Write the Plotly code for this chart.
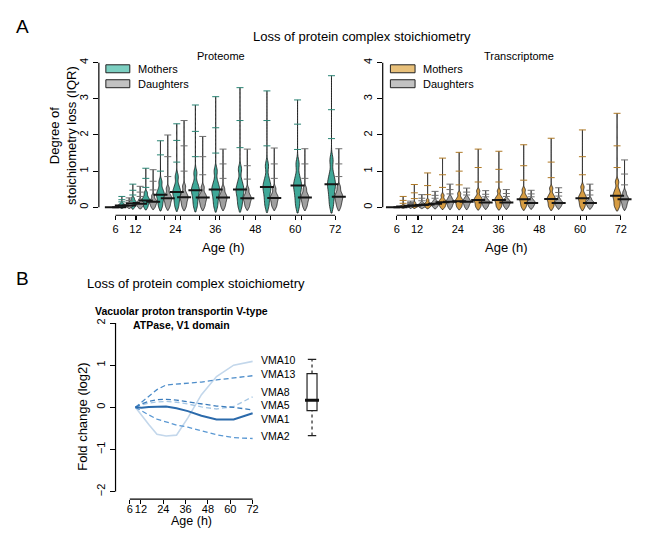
import plotly.graph_objects as go

# The page body has an 8px margin; the figure is sized to fit the window and
# all layout positions below are given in window pixels.
PAD = 8
W, H = 647 - PAD, 547 - PAD
def px(x): return (x - PAD) / W
def py(y): return 1 - (y - PAD) / H

FONT = "Liberation Sans, Arial, sans-serif"

# ---------------- data ----------------
ages = [6, 9, 12.3, 16.2, 20.6, 25.5, 31.1, 37.2, 44.5, 52.6, 61.8, 72]
label_ticks = [6, 12, 24, 36, 48, 60, 72]

prot_mother_median = [0, .05, .12, .19, .35, .42, .47, .49, .49, .56, .60, .64]
prot_daughter_median = [0, .05, .10, .15, .25, .28, .27, .27, .25, .26, .27, .29]
trans_mother_median = [0, .02, .05, .08, .14, .17, .20, .20, .22, .23, .25, .32]
trans_daughter_median = [0, .04, .06, .10, .15, .15, .13, .13, .12, .12, .12, .22]

# per time point: 7 body values, then 3 tail values (last = maximum)
prot_mother_samples = [
    [],
    [0.0, 0.02, 0.035, 0.05, 0.06, 0.08, 0.11, 0.15, 0.21, 0.30],
    [0.0, 0.05, 0.09, 0.12, 0.14, 0.18, 0.25, 0.34, 0.47, 0.64],
    [0.0, 0.08, 0.14, 0.19, 0.22, 0.29, 0.40, 0.55, 0.80, 1.08],
    [0.02, 0.15, 0.26, 0.34, 0.39, 0.50, 0.70, 1.00, 1.45, 1.84],
    [0.03, 0.18, 0.31, 0.41, 0.46, 0.60, 0.85, 1.25, 1.85, 2.31],
    [0.03, 0.20, 0.35, 0.46, 0.52, 0.66, 0.95, 1.40, 2.10, 2.83],
    [0.03, 0.21, 0.36, 0.48, 0.54, 0.70, 1.00, 1.50, 2.20, 3.06],
    [0.03, 0.21, 0.36, 0.48, 0.55, 0.72, 1.05, 1.65, 2.40, 3.31],
    [0.04, 0.24, 0.41, 0.55, 0.62, 0.80, 1.15, 1.70, 2.40, 3.22],
    [0.04, 0.26, 0.44, 0.59, 0.66, 0.85, 1.20, 1.60, 2.30, 2.97],
    [0.05, 0.28, 0.47, 0.63, 0.71, 0.92, 1.30, 1.90, 2.70, 3.64],
]
prot_daughter_samples = [
    [],
    [0.0, 0.02, 0.035, 0.05, 0.06, 0.08, 0.10, 0.14, 0.19, 0.26],
    [0.0, 0.04, 0.07, 0.10, 0.12, 0.15, 0.21, 0.30, 0.42, 0.58],
    [0.0, 0.06, 0.11, 0.15, 0.17, 0.22, 0.32, 0.48, 0.72, 1.04],
    [0.01, 0.10, 0.18, 0.24, 0.28, 0.36, 0.52, 0.85, 1.40, 2.00],
    [0.01, 0.11, 0.20, 0.27, 0.31, 0.40, 0.58, 1.00, 1.70, 2.40],
    [0.01, 0.11, 0.19, 0.26, 0.30, 0.38, 0.55, 0.90, 1.40, 1.96],
    [0.01, 0.11, 0.19, 0.26, 0.30, 0.38, 0.52, 0.80, 1.20, 1.61],
    [0.01, 0.10, 0.18, 0.24, 0.28, 0.36, 0.50, 0.78, 1.15, 1.61],
    [0.01, 0.10, 0.18, 0.25, 0.29, 0.37, 0.52, 0.80, 1.20, 1.64],
    [0.01, 0.11, 0.19, 0.26, 0.30, 0.38, 0.52, 0.80, 1.20, 1.62],
    [0.01, 0.12, 0.20, 0.28, 0.32, 0.41, 0.56, 0.85, 1.20, 1.62],
]
trans_mother_samples = [
    [],
    [0.0, 0.005, 0.012, 0.02, 0.025, 0.035, 0.06, 0.11, 0.19, 0.30],
    [0.0, 0.02, 0.035, 0.05, 0.06, 0.08, 0.13, 0.24, 0.40, 0.63],
    [0.0, 0.03, 0.055, 0.08, 0.09, 0.13, 0.20, 0.35, 0.60, 0.95],
    [0.0, 0.05, 0.10, 0.14, 0.16, 0.22, 0.33, 0.55, 0.90, 1.36],
    [0.0, 0.06, 0.12, 0.17, 0.19, 0.26, 0.38, 0.62, 1.00, 1.52],
    [0.0, 0.07, 0.14, 0.20, 0.23, 0.30, 0.45, 0.70, 1.10, 1.61],
    [0.0, 0.07, 0.14, 0.20, 0.23, 0.30, 0.45, 0.70, 1.05, 1.55],
    [0.0, 0.08, 0.15, 0.22, 0.25, 0.33, 0.48, 0.75, 1.15, 1.73],
    [0.0, 0.08, 0.16, 0.23, 0.26, 0.35, 0.52, 0.82, 1.25, 1.91],
    [0.0, 0.09, 0.17, 0.25, 0.28, 0.38, 0.56, 0.90, 1.40, 2.14],
    [0.01, 0.11, 0.22, 0.31, 0.36, 0.48, 0.70, 1.10, 1.70, 2.60],
]
trans_daughter_samples = [
    [],
    [0.0, 0.015, 0.03, 0.04, 0.045, 0.06, 0.08, 0.10, 0.13, 0.17],
    [0.0, 0.02, 0.04, 0.06, 0.07, 0.09, 0.13, 0.18, 0.25, 0.35],
    [0.0, 0.04, 0.07, 0.10, 0.11, 0.14, 0.19, 0.25, 0.33, 0.44],
    [0.0, 0.06, 0.11, 0.15, 0.17, 0.21, 0.28, 0.37, 0.49, 0.64],
    [0.0, 0.06, 0.11, 0.15, 0.17, 0.21, 0.27, 0.34, 0.42, 0.53],
    [0.0, 0.05, 0.09, 0.13, 0.15, 0.18, 0.23, 0.29, 0.36, 0.46],
    [0.0, 0.05, 0.09, 0.13, 0.15, 0.18, 0.23, 0.30, 0.38, 0.49],
    [0.0, 0.05, 0.085, 0.12, 0.14, 0.17, 0.22, 0.29, 0.37, 0.47],
    [0.0, 0.05, 0.085, 0.12, 0.14, 0.17, 0.23, 0.31, 0.41, 0.54],
    [0.0, 0.05, 0.085, 0.12, 0.14, 0.17, 0.24, 0.34, 0.47, 0.64],
    [0.0, 0.09, 0.16, 0.22, 0.25, 0.31, 0.42, 0.62, 0.92, 1.31],
]

# Panel B: fold change (log2) per subunit
b_ages = [9, 12.3, 16.2, 20.6, 25.5, 31.1, 37.2, 44.5, 52.6, 61.8, 72]
vma10 = [0, -0.20, -0.41, -0.64, -0.68, -0.66, -0.25, 0.30, 0.73, 1.00, 1.09]
vma13 = [0, 0.12, 0.28, 0.42, 0.53, 0.55, 0.57, 0.60, 0.65, 0.69, 0.75]
vma8 = [0, 0.06, 0.10, 0.13, 0.14, 0.12, 0.08, 0.01, -0.04, 0.02, 0.25]
vma5 = [0, 0.08, 0.14, 0.18, 0.19, 0.17, 0.13, 0.08, 0.03, 0.00, -0.06]
vma1 = [0, -0.01, 0.01, 0.02, 0.02, -0.02, -0.09, -0.20, -0.29, -0.29, -0.14]
vma2 = [0, -0.09, -0.18, -0.28, -0.35, -0.42, -0.47, -0.55, -0.65, -0.72, -0.74]
vma_names = ["VMA10", "VMA13", "VMA8", "VMA5", "VMA1", "VMA2"]
label_y = [1.13, 0.79, 0.36, 0.06, -0.27, -0.67]

# summary box (log2 fold change)
box_lower, box_q1, box_median, box_q3, box_upper = -0.67, -0.08, 0.17, 0.80, 1.14

# ---------------- styles ----------------
TEAL, TEAL_L, TEAL_D = "#3fa898", "#7ccfc1", "#2a8575"
ORANGE, ORANGE_L, ORANGE_D = "#d69c42", "#e8c07a", "#b07a26"
GRAY, GRAY_L, GRAY_D = "#9f9f9f", "#c2c2c2", "#6f6f6f"
OFF = 1.1
VW = 2.4
NBODY = 7

fig = go.Figure()


def add_beans(samples, medians, shift, fill, dark, xa, ya):
    tx, ty = [], []
    for a, s, m in zip(ages, samples, medians):
        if not s:
            continue
        body = s[:NBODY]
        bw = 0.012 + 0.2 * m
        fig.add_trace(go.Violin(
            x=[a + shift] * len(body), y=body, xaxis=xa, yaxis=ya,
            width=VW, scalemode="width", spanmode="manual",
            span=[min(body) - 1.5 * bw, max(s)], bandwidth=bw,
            fillcolor=fill, line=dict(color="#1a1a1a", width=0.8),
            points=False, showlegend=False, hoverinfo="skip"))
        for v in s[NBODY:]:
            tx.append(a + shift)
            ty.append(v)
    fig.add_trace(go.Scatter(
        x=tx, y=ty, xaxis=xa, yaxis=ya, mode="markers",
        marker=dict(symbol="line-ew", size=5, line=dict(color=dark, width=1)),
        showlegend=False, hoverinfo="skip"))
    fig.add_trace(go.Scatter(
        x=[a + shift for a in ages], y=medians, xaxis=xa, yaxis=ya,
        mode="markers",
        marker=dict(symbol="line-ew", size=10, line=dict(color="#151515", width=2)),
        showlegend=False, hoverinfo="skip"))


add_beans(prot_mother_samples, prot_mother_median, -OFF, TEAL, TEAL_D, "x", "y")
add_beans(prot_daughter_samples, prot_daughter_median, OFF, GRAY, GRAY_D, "x", "y")
add_beans(trans_mother_samples, trans_mother_median, -OFF, ORANGE, ORANGE_D, "x2", "y2")
add_beans(trans_daughter_samples, trans_daughter_median, OFF, GRAY, GRAY_D, "x2", "y2")

# Panel B lines
line_styles = {
    "VMA10": dict(color="#c3d7eb", width=1.6, dash="solid"),
    "VMA13": dict(color="#4d8dca", width=1.3, dash="5px,3px"),
    "VMA8": dict(color="#a5c6e4", width=1.3, dash="5px,3px"),
    "VMA5": dict(color="#3b7cbc", width=1.3, dash="5px,3px"),
    "VMA2": dict(color="#5a98d3", width=1.3, dash="5px,3px"),
    "VMA1": dict(color="#2b6aab", width=2.0, dash="solid"),
}
series = {"VMA10": vma10, "VMA13": vma13, "VMA8": vma8, "VMA5": vma5,
          "VMA2": vma2, "VMA1": vma1}
for name in ["VMA10", "VMA13", "VMA8", "VMA5", "VMA2", "VMA1"]:
    fig.add_trace(go.Scatter(x=b_ages, y=series[name], mode="lines",
                             line=line_styles[name], xaxis="x3", yaxis="y3",
                             showlegend=False, hoverinfo="skip"))

# summary box
fig.add_trace(go.Box(x=[0.5], q1=[box_q1], median=[box_median], q3=[box_q3],
                     lowerfence=[box_q1], upperfence=[box_q3], width=0.4,
                     fillcolor="white", line=dict(color="#222", width=1.2),
                     xaxis="x4", yaxis="y4", showlegend=False, hoverinfo="skip",
                     boxpoints=False))
for lo, hi in [(box_q3, box_upper), (box_lower, box_q1)]:
    fig.add_trace(go.Scatter(x=[0.5, 0.5], y=[lo, hi], mode="lines",
                             line=dict(color="#222", width=1.2, dash="3px,3px"),
                             xaxis="x4", yaxis="y4", showlegend=False, hoverinfo="skip"))
fig.add_trace(go.Scatter(x=[0.5, 0.5], y=[box_lower, box_upper], mode="markers",
                         marker=dict(symbol="line-ew", size=6, line=dict(color="#222", width=1.2)),
                         xaxis="x4", yaxis="y4", showlegend=False, hoverinfo="skip"))
fig.add_trace(go.Scatter(x=[0.5], y=[box_median], mode="markers",
                         marker=dict(symbol="line-ew", size=10, line=dict(color="#111", width=3)),
                         xaxis="x4", yaxis="y4", showlegend=False, hoverinfo="skip"))

# ---------------- axes ----------------
all_ticks = sorted(set(label_ticks) | set(ages))
all_text = [str(t) if t in label_ticks else "" for t in all_ticks]

tickfont = dict(family=FONT, size=11, color="black")
common_x = dict(showgrid=False, zeroline=False, showline=False, ticks="outside",
                ticklen=4, tickwidth=1, tickcolor="black", tickfont=tickfont,
                tickangle=0)
common_y = dict(showgrid=False, zeroline=False, showline=False, ticks="outside",
                ticklen=5, tickwidth=1, tickcolor="black", tickfont=tickfont,
                tickangle=-90, tickvals=[0, 1, 2, 3, 4])

fig.update_layout(
    width=W, height=H, margin=dict(l=0, r=0, t=0, b=0),
    paper_bgcolor="white", plot_bgcolor="white", violinmode="overlay",
    showlegend=False, font=dict(family=FONT, color="black"),
    xaxis=dict(domain=[px(99), px(348)], range=[0.99, 75.7], anchor="y",
               tickvals=all_ticks, ticktext=all_text, **common_x),
    yaxis=dict(domain=[py(214), py(58)], range=[-0.22, 4.08], anchor="x", **common_y),
    xaxis2=dict(domain=[px(383.3), px(634)], range=[1.88, 75.6], anchor="y2",
                tickvals=all_ticks, ticktext=all_text, **common_x),
    yaxis2=dict(domain=[py(214), py(58)], range=[-0.22, 4.08], anchor="x2", **common_y),
    xaxis3=dict(domain=[px(115.7), px(258)], range=[-1.66, 74.68], anchor="y3",
                tickvals=label_ticks, ticklabelstandoff=-4, **common_x),
    yaxis3=dict(domain=[py(499), py(318)], range=[-2.18, 2.10], anchor="x3",
                **{**common_y, "tickvals": [-2, -1, 0, 1, 2]}),
    xaxis4=dict(domain=[px(300), px(325)], range=[0, 1], anchor="y4", visible=False),
    yaxis4=dict(domain=[py(499), py(318)], range=[-2.18, 2.10], anchor="x4", visible=False),
)

shapes = []
for xa, ya in [("x", "y"), ("x2", "y2")]:
    shapes.append(dict(type="line", xref=xa, yref=ya + " domain", x0=6, x1=72, y0=0, y1=0,
                       line=dict(color="black", width=1.2)))
    shapes.append(dict(type="line", xref=xa + " domain", yref=ya, x0=0, x1=0, y0=0, y1=4,
                       line=dict(color="black", width=1.2)))
shapes.append(dict(type="line", xref="x3", yref="y3 domain", x0=6, x1=72, y0=0, y1=0,
                   line=dict(color="black", width=1.2)))
shapes.append(dict(type="line", xref="x3 domain", yref="y3", x0=0, x1=0, y0=-2, y1=2,
                   line=dict(color="black", width=1.2)))

# manual legends
for (x0, x1), c1, c2 in [((106, 130), TEAL_L, GRAY_L), ((391, 415.7), ORANGE_L, GRAY_L)]:
    for (y0, y1), c in [((63, 71), c1), ((78, 86), c2)]:
        shapes.append(dict(type="rect", xref="paper", yref="paper",
                           x0=px(x0), x1=px(x1), y0=py(y1), y1=py(y0),
                           fillcolor=c, line=dict(color="#222", width=1)))
fig.update_layout(shapes=shapes)


def ann(text, x, y, size, xanchor="center", angle=0, bold=False):
    fig.add_annotation(text=text, x=px(x), y=py(y), xref="paper", yref="paper",
                       xanchor=xanchor, yanchor="middle", showarrow=False,
                       textangle=angle,
                       font=dict(family=FONT, size=size, color="black",
                                 weight="bold" if bold else "normal"))


ann("A", 23, 25, 19)
ann("B", 23, 277, 19)
ann("Loss of protein complex stoichiometry", 363, 35, 13)
ann("Proteome", 221.7, 54, 11)
ann("Transcriptome", 520, 54, 11)
ann("Mothers", 136, 67, 11, xanchor="left")
ann("Daughters", 136, 82, 11, xanchor="left")
ann("Mothers", 421.7, 67, 11, xanchor="left")
ann("Daughters", 421.7, 82, 11, xanchor="left")
ann("Degree of<br>stoichiometry loss (IQR)", 63, 133.5, 13, angle=-90)
ann("Age (h)", 224, 246.5, 13)
ann("Age (h)", 507.3, 246.5, 13)
ann("Loss of protein complex stoichiometry", 196.7, 282.7, 13)
ann("Vacuolar proton transportin V-type<br>ATPase, V1 domain", 181.7, 317.3, 10.5, bold=True)
ann("Fold change (log2)", 82.7, 416.7, 13, angle=-90)
ann("Age (h)", 192, 520.5, 12.5)

for name, ly in zip(vma_names, label_y):
    fig.add_annotation(text=name, x=px(259.3), y=ly, xref="paper", yref="y3",
                       xanchor="left", yanchor="middle", showarrow=False,
                       font=dict(family=FONT, size=10.5, color="black"))

fig.write_html("out.html")
